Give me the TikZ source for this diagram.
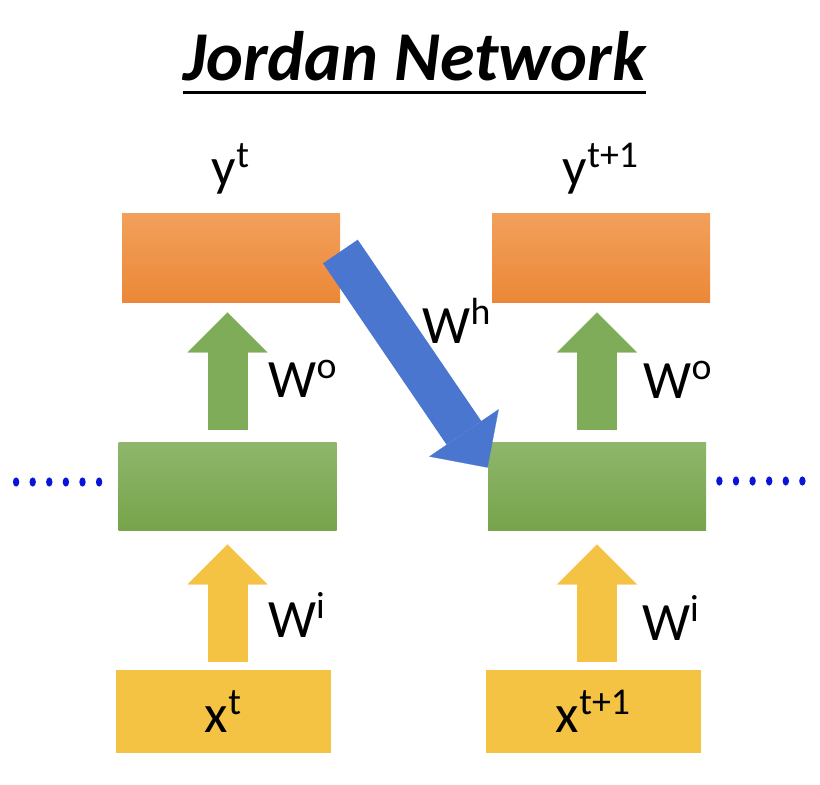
\documentclass[tikz,border=0pt]{standalone}
\usepackage{fontspec}
\setmainfont{Carlito}
\usepackage{tikz}
\usetikzlibrary{arrows.meta,positioning,calc}
\definecolor{orgtop}{HTML}{F2A05C}
\definecolor{orgbot}{HTML}{EB8837}
\definecolor{grntop}{HTML}{8FB66C}
\definecolor{grnbot}{HTML}{76A44A}
\definecolor{grnc}{HTML}{7FAC58}
\definecolor{ylwc}{HTML}{F5C343}
\definecolor{bluec}{HTML}{4A76D0}
\definecolor{dotc}{HTML}{0A14D8}
\tikzset{
  unit/.style={minimum width=109pt,minimum height=44pt,inner sep=0pt},
  outbox/.style={unit,minimum height=44.5pt,top color=orgtop,bottom color=orgbot},
  hidbox/.style={unit,top color=grntop,bottom color=grnbot},
  inbox/.style={unit,minimum width=107.5pt,minimum height=41.5pt,fill=ylwc,font=\fontsize{27}{30}\selectfont},
  lbl/.style={font=\fontsize{27}{30}\selectfont,inner sep=0pt},
  uparr/.style={line width=20pt,draw=#1,-{Triangle[length=20pt,width=40pt,line width=0.1pt]}},
  hidarr/.style={line width=21pt,draw=bluec,-{Triangle[length=21pt,width=42pt,line width=0.1pt]}}
}
\begin{document}
\begin{tikzpicture}[x=0.5pt,y=0.5pt]
\useasboundingbox (0,0) rectangle (820,784);
% title
\node[font=\fontsize{35}{40}\selectfont\bfseries\itshape,inner sep=0pt,anchor=base] (ttl) at (414.5,704) {Jordan Network};
\draw[line width=1.5pt] ([yshift=-6.5pt]ttl.base west) -- ([yshift=-6.5pt]ttl.base east);
% layers
\node[outbox] (ol) at (231,526.5) {};
\node[outbox] (or) at (601,526.5) {};
\node[hidbox] (hl) at (227.5,298) {};
\node[hidbox] (hr) at (597,298) {};
\node[inbox] (xl) at (223.5,72.5) {x\textsuperscript{t}};
\node[inbox] (xr) at (593.5,72.5) {x\textsuperscript{t+1}};
\node[lbl,above=9pt of ol] (yl) {y\textsuperscript{t}};
\node[lbl,above=9pt of or] (yr) {y\textsuperscript{t+1}};
% weights
\draw[uparr=grnc] ([yshift=6pt]hl.north) -- ([yshift=-5pt]ol.south -| hl.north);
\draw[uparr=grnc] ([yshift=6pt]hr.north) -- ([yshift=-5pt]or.south -| hr.north);
\draw[uparr=ylwc] ([yshift=4pt]xl.north -| hl.south) -- ([yshift=-7pt]hl.south);
\draw[uparr=ylwc] ([yshift=4pt]xr.north -| hr.south) -- ([yshift=-7pt]hr.south);
\draw[hidarr] ([yshift=3pt]ol.east) -- ([yshift=-13pt]hr.north west);
\node[lbl,anchor=base] (wol) at (303,387) {W\textsuperscript{o}};
\node[lbl,anchor=base] (wor) at (678,386) {W\textsuperscript{o}};
\node[lbl,anchor=base] (wil) at (297,147) {W\textsuperscript{i}};
\node[lbl,anchor=base] (wir) at (671,144) {W\textsuperscript{i}};
\node[lbl,anchor=base] (wh) at (457,441) {W\textsuperscript{h}};
% dots
\foreach \i in {0,...,5}{
  \fill[dotc] ([xshift=-9.5pt-8.3pt*\i,yshift=2pt]hl.west) ellipse (1.6pt and 2.3pt);
  \fill[dotc] ([xshift=6.5pt+8.3pt*\i,yshift=2.5pt]hr.east) ellipse (1.6pt and 2.3pt);
}
\end{tikzpicture}
\end{document}
